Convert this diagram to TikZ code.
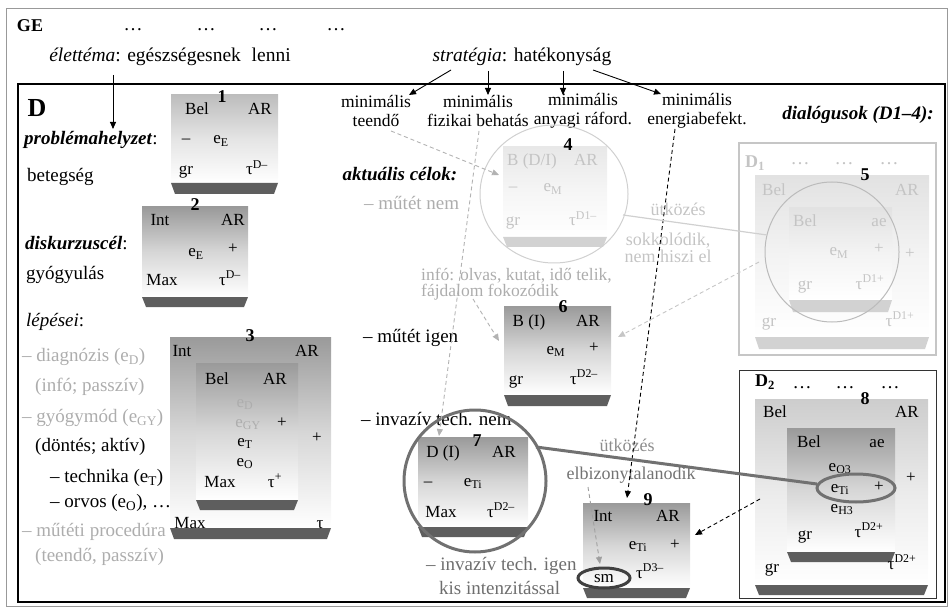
\documentclass[tikz,border=0pt]{standalone}
\usepackage{fontspec}
\setmainfont{Liberation Serif}
\usetikzlibrary{arrows.meta}
\definecolor{fadetxt}{HTML}{ADADAD}
\definecolor{faint}{HTML}{C4C4C4}
\definecolor{midtxt}{HTML}{6E6E6E}
\definecolor{gtop}{HTML}{9A9A9A}
\definecolor{gtopl}{HTML}{BDBDBD}
\definecolor{gtop8}{HTML}{CDCDCD}
\definecolor{gtop4}{HTML}{E8E8E8}
\definecolor{gtop5}{HTML}{E2E2E2}
\definecolor{basedark}{HTML}{5E5E5E}
\definecolor{baselight}{HTML}{D2D2D2}
\definecolor{ringdark}{HTML}{717171}
\definecolor{ringlight}{HTML}{D0D0D0}
\newcommand{\gbox}[7]{%
  \shade[top color=#6, bottom color=white, middle color=#6!40!white] (#1,#2) rectangle (#3,#4);
  \fill[#7] (#1,#4) -- (#3,#4) -- ({#3-4},#5) -- ({#1+4},#5) -- cycle;
}
\tikzset{
 tx/.style={inner sep=0pt, text height=13pt, text depth=4pt, font=\fontsize{19}{22}\selectfont},
 bx/.style={inner sep=0pt, text height=11.5pt, text depth=3.5pt, font=\fontsize{17}{19}\selectfont},
 num/.style={inner sep=0pt, text height=12pt, text depth=0pt, font=\bfseries\fontsize{18}{20}\selectfont},
 tip/.style={-{Triangle[length=7pt,width=6pt]}},
 dsh/.style={dash pattern=on 4pt off 3pt, line width=0.9pt},
}
\begin{document}
\begin{tikzpicture}[x=1pt,y=-1pt]
\useasboundingbox (0,0) rectangle (949,609);
% frames
\draw[gray!80, line width=1pt] (6,9) rectangle (947,606);
\draw[black, line width=2pt] (18,84) rectangle (945,602);
% header
\node[tx, font=\bfseries\fontsize{18}{20}\selectfont] (ge) at (30,27) {GE};
\node[tx, anchor=base] (gd1) at (133,31) {…};
\node[tx, anchor=base] (gd2) at (206,31) {…};
\node[tx, anchor=base] (gd3) at (268,31) {…};
\node[tx, anchor=base] (gd4) at (336,31) {…};
\node[tx, font=\fontsize{19.5}{22}\selectfont] (elet) at (170,57) {\textit{élettéma}: egészségesnek\hspace{0.55em}lenni};
\node[tx, font=\fontsize{19.5}{22}\selectfont] (strat) at (522,57) {\textit{stratégia}: hatékonyság};
% left column
\node[tx, font=\bfseries\fontsize{26}{28}\selectfont, text height=18pt, text depth=0pt] (D) at (37,108) {D};
\node[tx, anchor=west] (probl) at (24,140) {\textbf{\textit{problémahelyzet}}:};
\node[tx, anchor=west] (beteg) at (27,177) {betegség};
\node[tx, anchor=west] (disk) at (25,245) {\textbf{\textit{diskurzuscél}}:};
\node[tx, anchor=west] (gyogy) at (26,275) {gyógyulás};
\node[tx, anchor=west] (lep) at (26,322) {\textit{lépései}:};
\node[tx, anchor=west, text=fadetxt] (s1) at (22,357) {– diagnózis (e\textsubscript{D})};
\node[tx, anchor=west, text=fadetxt] (s2) at (35,387) {(infó; passzív)};
\node[tx, anchor=west, text=fadetxt] (s3) at (22,418) {– gyógymód (e\textsubscript{GY})};
\node[tx, anchor=west] (s4) at (35,447) {(döntés; aktív)};
\node[tx, anchor=west] (s5) at (50,478) {– technika (e\textsubscript{T})};
\node[tx, anchor=west] (s6) at (50,503) {– orvos (e\textsubscript{O}), …};
\node[tx, anchor=west, text=fadetxt] (s7) at (22,532) {– műtéti procedúra};
\node[tx, anchor=west, text=fadetxt] (s8) at (35,557) {(teendő, passzív)};
% box 1
\gbox{171}{95}{278}{183}{194}{gtopl}{basedark}
\node[num] (n1) at (222,97) {1};
\node[bx] (b1a) at (197,111) {Bel};
\node[bx] (b1b) at (260,111) {AR};
\node[bx] (b1c) at (186,140) {–};
\node[bx] (b1d) at (221,140) {e\textsubscript{E}};
\node[bx] (b1e) at (186,171) {gr};
\node[bx] (b1f) at (257,171) {τ\textsuperscript{D–}};
% box 2
\gbox{142}{207}{248}{297}{307}{gtop}{basedark}
\node[num] (n2) at (195,205) {2};
\node[bx] (b2a) at (160,222) {Int};
\node[bx] (b2b) at (233,222) {AR};
\node[bx] (b2c) at (196,253) {e\textsubscript{E}};
\node[bx] (b2d) at (233,250) {+};
\node[bx] (b2e) at (162,282) {Max};
\node[bx] (b2f) at (230,281) {τ\textsuperscript{D–}};
% box 3
\gbox{170}{337}{331}{528}{539}{gtop}{basedark}
\gbox{196}{363}{298}{500}{510}{gtop}{basedark}
\node[num] (n3) at (250,335) {3};
\node[bx] (b3a) at (182,352) {Int};
\node[bx] (b3b) at (307,352) {AR};
\node[bx] (b3c) at (217,380) {Bel};
\node[bx] (b3d) at (275,380) {AR};
\node[bx, text=fadetxt] (b3e) at (245,403) {e\textsubscript{D}};
\node[bx, text=fadetxt] (b3f) at (248,423) {e\textsubscript{GY}};
\node[bx] (b3g) at (282,423) {+};
\node[bx] (b3h) at (317,438) {+};
\node[bx] (b3i) at (245,442) {e\textsubscript{T}};
\node[bx] (b3j) at (245,462) {e\textsubscript{O}};
\node[bx] (b3k) at (220,483) {Max};
\node[bx] (b3l) at (275,483) {τ\textsuperscript{+}};
\node[bx] (b3m) at (190,524) {Max};
\node[bx] (b3n) at (320,524) {τ};
% middle column texts
\node[tx, font=\fontsize{17.5}{19}\selectfont, align=center, text height=, text depth=] (m1) at (376,111) {minimális\\teendő};
\node[tx, font=\fontsize{17.5}{19}\selectfont, align=center, text height=, text depth=] (m2) at (478,111) {minimális\\fizikai behatás};
\node[tx, font=\fontsize{17.5}{19}\selectfont, align=center, text height=, text depth=] (m3) at (583,111) {minimális\\anyagi ráford.};
\node[tx, font=\fontsize{17.5}{19}\selectfont, align=center, text height=, text depth=] (m4) at (697,111) {minimális\\energiabefekt.};
\node[tx] (akt) at (400,176) {\textbf{\textit{aktuális célok:}}};
\node[tx] (dial) at (858,115) {\textbf{\textit{dialógusok (D1–4):}}};
\node[tx, anchor=west, text=fadetxt] (mnem) at (364,205) {– műtét nem};
\node[tx, anchor=west, text=fadetxt, font=\fontsize{17.5}{20}\selectfont] (info1) at (421,276) {infó: olvas, kutat, idő telik,};
\node[tx, anchor=west, text=fadetxt, font=\fontsize{17.5}{20}\selectfont] (info2) at (421,292) {fájdalom fokozódik};
\node[tx, anchor=west] (migen) at (363,338) {– műtét igen};
\node[tx, anchor=west] (inem) at (361,421) {– invazív tech. nem};
\node[tx, anchor=west, text=midtxt] (iigen) at (426,566) {– invazív tech. igen};
\node[tx, anchor=west, text=midtxt] (kis) at (439,590) {kis intenzitással};
\node[tx, text=faint, font=\fontsize{18}{20}\selectfont] (utk1) at (678,211) {ütközés};
\node[tx, text=faint, font=\fontsize{18}{20}\selectfont] (sokk) at (668,241) {sokkolódik,};
\node[tx, text=faint, font=\fontsize{18}{20}\selectfont] (nemh) at (668,258) {nem hiszi el};
\node[tx, text=gray!90, font=\fontsize{18}{20}\selectfont] (utk2) at (627,447) {ütközés};
\node[tx, text=gray!110, font=\fontsize{18}{20}\selectfont] (elbiz) at (631,475) {elbizonytalanodik};
% box 4
\gbox{503}{147}{607}{237}{247}{gtop4}{baselight}
\draw[ringlight, line width=1pt] (554,194) ellipse [x radius=74, y radius=69];
\node[num] (n4) at (568,145) {4};
\node[bx, text=faint] (b4a) at (532,162) {B (D/I)};
\node[bx, text=faint] (b4b) at (586,162) {AR};
\node[bx, text=faint] (b4c) at (513,188) {–};
\node[bx, text=faint] (b4d) at (553,188) {e\textsubscript{M}};
\node[bx, text=faint] (b4e) at (513,222) {gr};
\node[bx, text=faint] (b4f) at (583,222) {τ\textsuperscript{D1–}};
% D1 frame, box 5
\draw[gray!45, line width=1.2pt] (739,143) rectangle (936,355);
\gbox{755}{176}{929}{337}{349}{gtop5}{baselight}
\gbox{789}{208}{892}{300}{312}{gtop5}{baselight}
\draw[ringlight!90!black, line width=1pt] (832,252) ellipse [x radius=67, y radius=70];
\node[tx, text=faint, font=\bfseries\fontsize{18}{20}\selectfont] (d1) at (755,163) {D\textsubscript{1}};
\node[tx, anchor=base, text=faint] (d1a) at (800,165) {…};
\node[tx, anchor=base, text=faint] (d1b) at (844,165) {…};
\node[tx, anchor=base, text=faint] (d1c) at (889,165) {…};
\node[num] (n5) at (865,175) {5};
\node[bx, text=faint] (b5a) at (774,192) {Bel};
\node[bx, text=faint] (b5b) at (907,192) {AR};
\node[bx, text=faint] (b5c) at (805,223) {Bel};
\node[bx, text=faint] (b5d) at (879,223) {ae};
\node[bx, text=faint] (b5e) at (839,252) {e\textsubscript{M}};
\node[bx, text=faint] (b5f) at (879,250) {+};
\node[bx, text=faint] (b5g) at (910,255) {+};
\node[bx, text=faint] (b5h) at (805,285) {gr};
\node[bx, text=faint] (b5i) at (870,285) {τ\textsuperscript{D1+}};
\node[bx, text=faint] (b5j) at (769,322) {gr};
\node[bx, text=faint] (b5k) at (900,322) {τ\textsuperscript{D1+}};
% box 6
\gbox{504}{306}{611}{395}{406}{gtop}{basedark}
\node[num] (n6) at (563,306) {6};
\node[bx] (b6a) at (529,322) {B (I)};
\node[bx] (b6b) at (588,322) {AR};
\node[bx] (b6c) at (556,350) {e\textsubscript{M}};
\node[bx] (b6d) at (594,348) {+};
\node[bx] (b6e) at (516,380) {gr};
\node[bx] (b6f) at (584,380) {τ\textsuperscript{D2–}};
% box 7
\gbox{418}{437}{528}{527}{537}{gtop}{basedark}
\draw[ringdark, line width=3pt] (475,481) circle [radius=71];
\node[num] (n7) at (477,440) {7};
\node[bx] (b7a) at (443,453) {D (I)};
\node[bx] (b7b) at (504,453) {AR};
\node[bx] (b7c) at (428,482) {–};
\node[bx] (b7d) at (473,482) {e\textsubscript{Ti}};
\node[bx] (b7e) at (441,513) {Max};
\node[bx] (b7f) at (501,513) {τ\textsuperscript{D2–}};
% D2 frame, box 8
\draw[black!80, line width=1pt] (739,370) rectangle (936,598);
\gbox{755}{399}{928}{585}{595}{gtop8}{basedark}
\gbox{787}{428}{895}{552}{562}{gtop}{basedark}
\node[tx, font=\bfseries\fontsize{18}{20}\selectfont] (d2) at (765,382) {D\textsubscript{2}};
\node[tx, anchor=base] (d2a) at (802,388) {…};
\node[tx, anchor=base] (d2b) at (845,388) {…};
\node[tx, anchor=base] (d2c) at (890,388) {…};
\node[num] (n8) at (865,398) {8};
\node[bx] (b8a) at (775,413) {Bel};
\node[bx] (b8b) at (907,413) {AR};
\node[bx] (b8c) at (809,443) {Bel};
\node[bx] (b8d) at (877,443) {ae};
\node[bx] (b8e) at (840,467) {e\textsubscript{O3}};
\node[bx] (b8f) at (840,488) {e\textsubscript{Ti}};
\node[bx] (b8g) at (879,487) {+};
\node[bx] (b8h) at (842,508) {e\textsubscript{H3}};
\node[bx] (b8i) at (911,478) {+};
\node[bx] (b8j) at (805,535) {gr};
\node[bx] (b8k) at (869,533) {τ\textsuperscript{D2+}};
\node[bx] (b8l) at (772,568) {gr};
\node[bx] (b8m) at (902,565) {τ\textsuperscript{D2+}};
\draw[ringdark, line width=3pt] (856,488) ellipse [x radius=39, y radius=14];
% box 9
\gbox{583}{503}{690}{588}{598}{gtop}{basedark}
\node[num] (n9) at (648,499) {9};
\node[bx] (b9a) at (603,517) {Int};
\node[bx] (b9b) at (668,517) {AR};
\node[bx] (b9c) at (638,545) {e\textsubscript{Ti}};
\node[bx] (b9d) at (675,545) {+};
\node[bx] (b9e) at (604,578) {sm};
\node[bx] (b9f) at (650,574) {τ\textsuperscript{D3–}};
\draw[black!75, line width=3pt] (604,578) ellipse [x radius=26, y radius=10];
% connector end points
\coordinate (a0s) at (113,75);
\coordinate (a0e) at (113,129);
\coordinate (s1s) at (451,70); \coordinate (s1e) at (409,95);
\coordinate (s2s) at (488,71); \coordinate (s2e) at (488,95);
\coordinate (s3s) at (563,71); \coordinate (s3e) at (563,95);
\coordinate (s4s) at (593,70); \coordinate (s4e) at (661,94);
\coordinate (c1s) at (391,131); \coordinate (c1e) at (499,175);
\coordinate (c2s) at (479,131); \coordinate (c2e) at (439,436);
\coordinate (c3s) at (675,129); \coordinate (c3e) at (627,498);
\coordinate (c4s) at (623,215); \coordinate (c4e) at (767,235);
\coordinate (c5s) at (759,262); \coordinate (c5e) at (618,337);
\coordinate (c6s) at (473,299); \coordinate (c6e) at (499,341);
\coordinate (c7s) at (536,447); \coordinate (c7e) at (817,484);
\coordinate (c8s) at (588,487); \coordinate (c8e) at (600,564);
\coordinate (c9s) at (760,499); \coordinate (c9e) at (695,535);
% connectors
\draw[tip, line width=0.9pt] (a0s) -- (a0e);
\draw[tip, line width=0.9pt] (s1s) -- (s1e);
\draw[tip, line width=0.9pt] (s2s) -- (s2e);
\draw[tip, line width=0.9pt] (s3s) -- (s3e);
\draw[tip, line width=0.9pt] (s4s) -- (s4e);
\draw[tip, dsh, gray!60] (c1s) -- (c1e);
\draw[tip, dsh, gray!60] (c2s) -- (c2e);
\draw[tip, dsh, black] (c3s) -- (c3e);
\draw[ringlight, line width=1.2pt] (c4s) -- (c4e);
\draw[tip, dsh, gray!45] (c5s) -- (c5e);
\draw[tip, dsh, gray!60] (c6s) -- (c6e);
\draw[ringdark, line width=3pt] (c7s) -- (c7e);
\draw[tip, dsh, gray!75] (c8s) -- (c8e);
\draw[tip, dsh, black] (c9s) -- (c9e);
\end{tikzpicture}
\end{document}
